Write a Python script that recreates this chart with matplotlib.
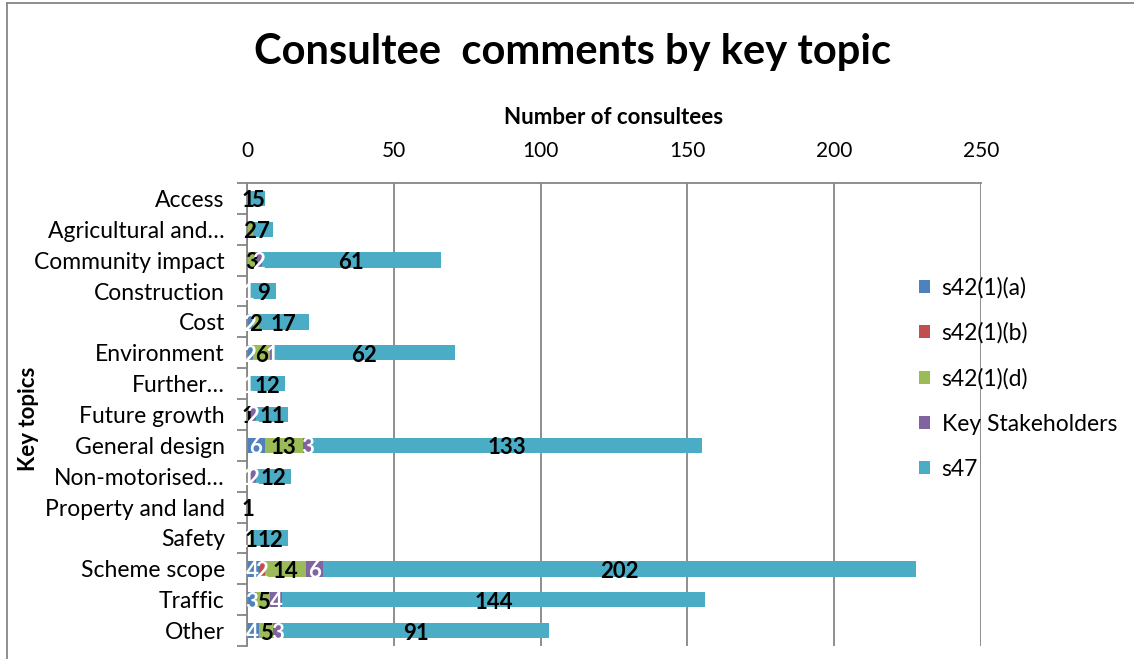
import matplotlib.pyplot as plt
import numpy as np
from matplotlib.lines import Line2D

plt.rcParams["font.family"] = ["Lato", "DejaVu Sans"]

TOPICS = [
    "Access",
    "Agricultural and…",
    "Community impact",
    "Construction",
    "Cost",
    "Environment",
    "Further…",
    "Future growth",
    "General design",
    "Non-motorised…",
    "Property and land",
    "Safety",
    "Scheme scope",
    "Traffic",
    "Other",
]

SERIES = ["s42(1)(a)", "s42(1)(b)", "s42(1)(d)", "Key Stakeholders", "s47"]

s42_1a = [0, 0, 0, 1, 2, 2, 1, 0, 6, 1, 0, 1, 4, 3, 4]
s42_1b = [0, 0, 0, 0, 0, 0, 0, 0, 0, 0, 0, 0, 2, 0, 0]
s42_1d = [1, 2, 3, 0, 2, 6, 0, 1, 13, 0, 0, 1, 14, 5, 5]
key_stakeholders = [0, 0, 2, 0, 0, 1, 0, 2, 3, 2, 0, 0, 6, 4, 3]
s47 = [5, 7, 61, 9, 17, 62, 12, 11, 133, 12, 1, 12, 202, 144, 91]

COLORS = ["#4F81BD", "#C0504D", "#9BBB59", "#8064A2", "#4BACC6"]
LABEL_COLORS = ["white", "white", "black", "white", "black"]

values = np.array([s42_1a, s42_1b, s42_1d, key_stakeholders, s47])

fig = plt.figure(figsize=(11.34, 6.59), dpi=100)
ax = fig.add_axes([247 / 1134, 1 - 646 / 659, 734 / 1134, 463 / 659])

y = np.arange(len(TOPICS))
left = np.zeros(len(TOPICS))
for name, vals, color, lcolor in zip(SERIES, values, COLORS, LABEL_COLORS):
    ax.barh(y, vals, left=left, height=0.5, color=color, label=name)
    for yi, (v, l0) in enumerate(zip(vals, left)):
        if v > 0:
            ax.text(l0 + v / 2, yi + 0.08, f"{v}", ha="center", va="center",
                    fontsize=16, fontweight="bold", color=lcolor)
    left = left + vals

ax.set_xlim(0, 250)
ax.set_ylim(len(TOPICS) - 0.5, -0.5)
ax.set_xticks(np.arange(0, 251, 50))
ax.xaxis.tick_top()
ax.xaxis.set_label_position("top")
ax.tick_params(axis="x", length=0, labelsize=15, pad=16)
ax.set_xlabel("Number of consultees", fontsize=16, fontweight="bold", labelpad=12)

ax.set_yticks(y, labels=TOPICS, fontsize=16.5)
ax.tick_params(axis="y", which="major", length=0, pad=16)
ax.set_yticks(np.arange(-0.5, len(TOPICS), 1), minor=True)
ax.tick_params(axis="y", which="minor", length=7, color="#868686", width=1.3)
ax.set_ylabel("Key topics", fontsize=16, fontweight="bold")
ax.yaxis.set_label_coords(-0.283, 0.49)

ax.grid(axis="x", color="#868686", linewidth=1.3)
ax.set_axisbelow(True)
for side in ["right", "bottom"]:
    ax.spines[side].set_visible(False)
for side in ["top", "left"]:
    ax.spines[side].set_color("#868686")
    ax.spines[side].set_linewidth(1.3)

fig.suptitle("Consultee  comments by key topic", x=0.505, y=0.95,
             fontsize=30, fontweight="bold")

fig.legend(loc="upper left", bbox_to_anchor=(0.792, 0.611), frameon=False,
           fontsize=16.5, handlelength=0.5, handleheight=0.5,
           handletextpad=0.5, labelspacing=1.05)

# chart outline
fig.add_artist(Line2D([7 / 1134, 1], [1 - 3 / 659, 1 - 3 / 659],
                      transform=fig.transFigure, color="#868686", linewidth=1.3))
fig.add_artist(Line2D([7 / 1134, 7 / 1134], [0, 1 - 3 / 659],
                      transform=fig.transFigure, color="#868686", linewidth=1.3))

fig.savefig("out.png", dpi=100)
